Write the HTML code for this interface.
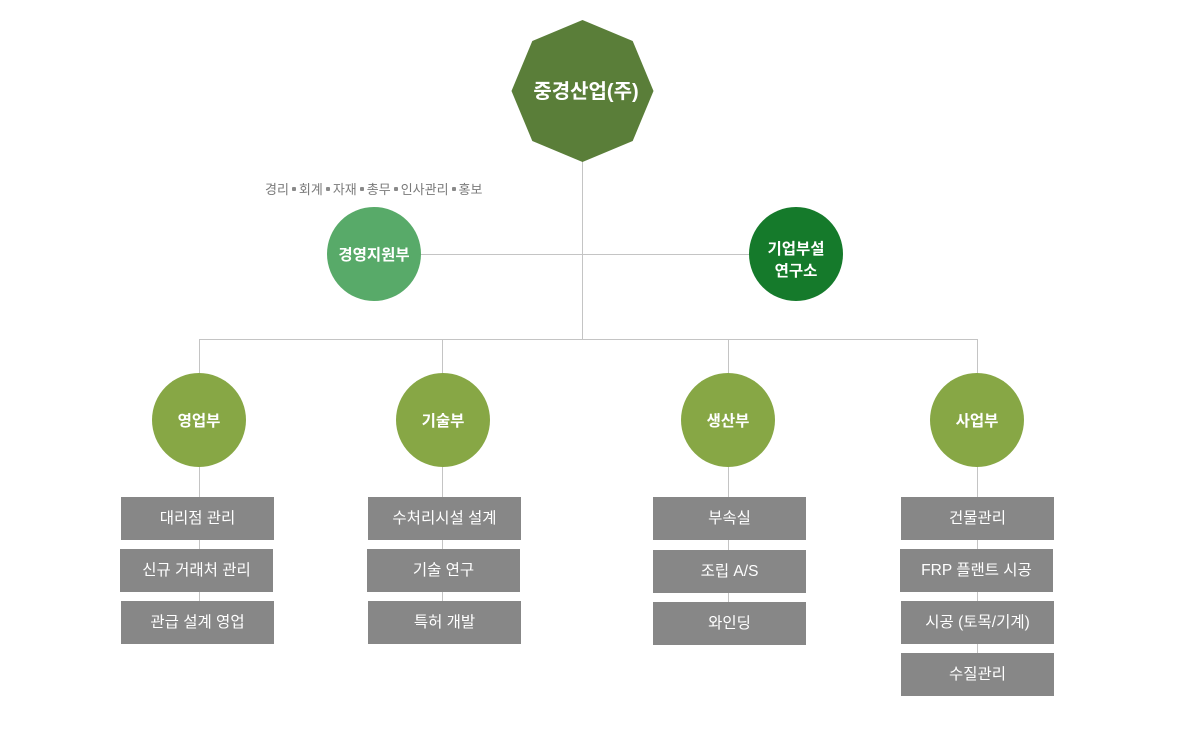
<!DOCTYPE html>
<html>
<head>
<meta charset="utf-8">
<style>
html,body{margin:0;padding:0;background:#fff;}
#wrap{position:relative;width:1200px;height:730px;overflow:hidden;background:#fff;font-family:"Liberation Sans","Noto Sans CJK KR",sans-serif;}
svg{position:absolute;left:0;top:0;}
.c{position:absolute;color:#fff;font-weight:bold;text-align:center;white-space:nowrap;}
.box{position:absolute;width:153px;height:43px;background:#878787;color:#fff;font-size:15.5px;line-height:44px;text-align:center;white-space:nowrap;font-family:"Liberation Sans","Noto Sans CJK KR",sans-serif;}
.circ{position:absolute;width:94px;height:94px;border-radius:50%;color:#fff;font-weight:bold;font-size:15.5px;display:flex;align-items:center;justify-content:center;text-align:center;line-height:22px;box-sizing:border-box;padding-top:3px;}
.g{background:#87a745;}
.note{position:absolute;left:265px;top:181px;font-size:13px;color:#7a7a7a;white-space:nowrap;line-height:18px;}
.note b{font-weight:normal;display:inline-block;width:4px;height:4px;background:#8a8a8a;margin:0 3px 3px 3px;vertical-align:middle;border-radius:1px;}
</style>
</head>
<body>
<div id="wrap">
<svg width="1200" height="730" viewBox="0 0 1200 730">
  <g stroke="#c4c4c4" stroke-width="1" fill="none">
    <line x1="582.5" y1="150" x2="582.5" y2="339.5"/>
    <line x1="420" y1="254.5" x2="752" y2="254.5"/>
    <line x1="199.5" y1="339.5" x2="977.5" y2="339.5"/>
    <line x1="199.5" y1="339" x2="199.5" y2="620"/>
    <line x1="442.5" y1="339" x2="442.5" y2="620"/>
    <line x1="728.5" y1="339" x2="728.5" y2="620"/>
    <line x1="977.5" y1="339" x2="977.5" y2="670"/>
  </g>
  <polygon points="582.5,20 632.7,41 653.5,91 632.7,141 582.5,162 532.3,141 511.5,91 532.3,41" fill="#5a7e39"/>
</svg>

<div class="c" style="left:515px;top:79px;width:142px;font-size:20px;line-height:26px;">중경산업(주)</div>

<div class="note">경리<b></b>회계<b></b>자재<b></b>총무<b></b>인사관리<b></b>홍보</div>

<div class="circ" style="left:327px;top:207px;background:#58aa69;">경영지원부</div>
<div class="circ" style="left:749px;top:207px;background:#157a2b;padding-top:14px;">기업부설<br>연구소</div>

<div class="circ g" style="left:152px;top:373px;">영업부</div>
<div class="circ g" style="left:396px;top:373px;">기술부</div>
<div class="circ g" style="left:681px;top:373px;">생산부</div>
<div class="circ g" style="left:930px;top:373px;">사업부</div>

<div class="box" style="left:121px;top:497px;">대리점 관리</div>
<div class="box" style="left:120px;top:549px;">신규 거래처 관리</div>
<div class="box" style="left:121px;top:601px;">관급 설계 영업</div>

<div class="box" style="left:368px;top:497px;">수처리시설 설계</div>
<div class="box" style="left:367px;top:549px;">기술 연구</div>
<div class="box" style="left:368px;top:601px;">특허 개발</div>

<div class="box" style="left:653px;top:497px;">부속실</div>
<div class="box" style="left:653px;top:550px;">조립 A/S</div>
<div class="box" style="left:653px;top:602px;">와인딩</div>

<div class="box" style="left:901px;top:497px;">건물관리</div>
<div class="box" style="left:900px;top:549px;">FRP 플랜트 시공</div>
<div class="box" style="left:901px;top:601px;">시공 (토목/기계)</div>
<div class="box" style="left:901px;top:653px;">수질관리</div>
</div>
</body>
</html>
